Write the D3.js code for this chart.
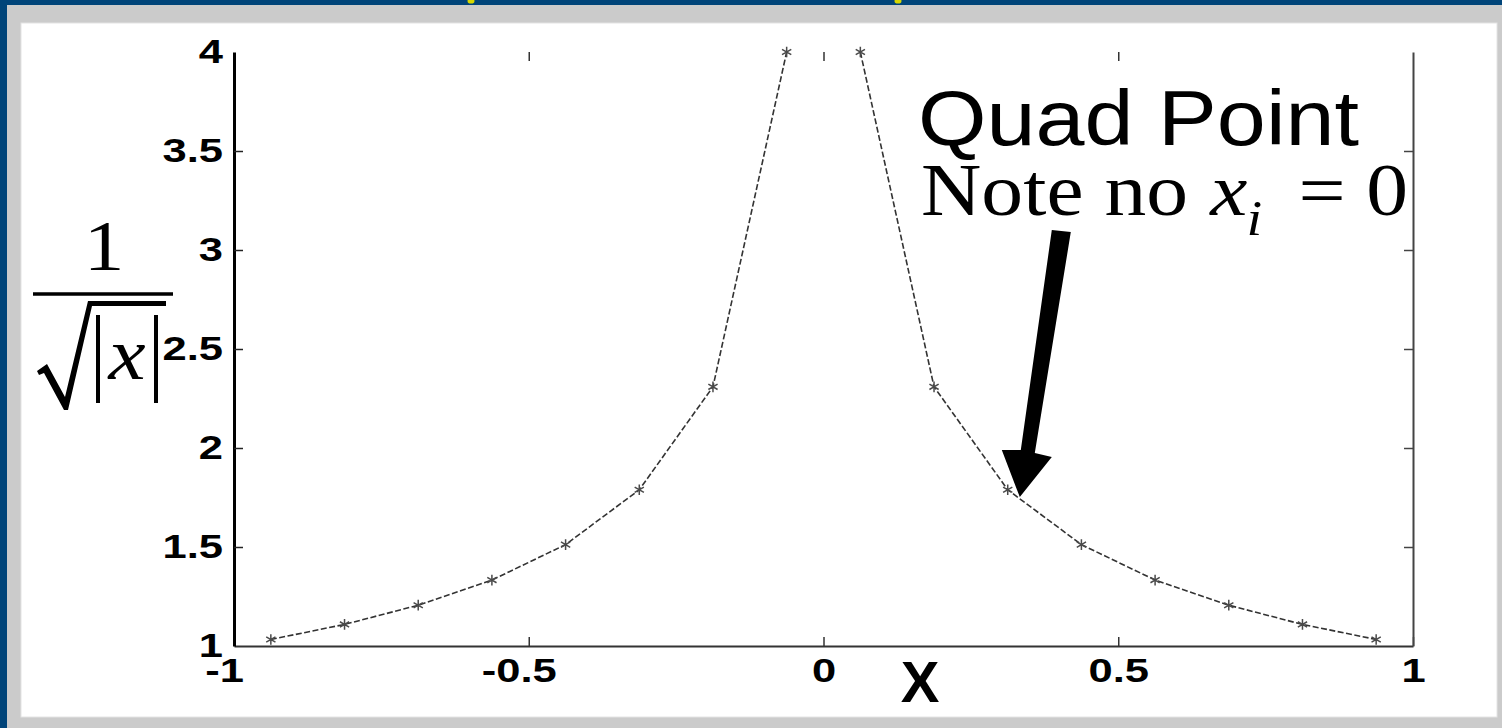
<!DOCTYPE html>
<html>
<head>
<meta charset="utf-8">
<script src="https://cdn.jsdelivr.net/npm/d3@7"></script>
<style>
  html, body { margin: 0; padding: 0; background: #004479; }
  svg { display: block; }
</style>
</head>
<body>
<svg id="chart" width="1502" height="728"></svg>
<script>
// Midpoint quadrature nodes on [-1, 1] (16 panels) and f(x) = 1/sqrt(|x|) at each node
const xNodes = [-0.9375, -0.8125, -0.6875, -0.5625, -0.4375, -0.3125, -0.1875, -0.0625,
                 0.0625,  0.1875,  0.3125,  0.4375,  0.5625,  0.6875,  0.8125,  0.9375];
const fValues = [1.033, 1.109, 1.206, 1.333, 1.512, 1.789, 2.309, 4.000,
                 4.000, 2.309, 1.789, 1.512, 1.333, 1.206, 1.109, 1.033];
const xTicks = [-1, -0.5, 0, 0.5, 1];
const xTickLabels = ["-1", "-0.5", "0", "0.5", "1"];
const yTicks = [1, 1.5, 2, 2.5, 3, 3.5, 4];
const yTickLabels = ["1", "1.5", "2", "2.5", "3", "3.5", "4"];

const svg = d3.select("#chart");
const W = 1502, H = 728;

// slide frame: navy edge, grey mat, white page
svg.append("rect").attr("width", W).attr("height", H).attr("fill", "#004479");
svg.append("rect").attr("x", 7).attr("y", 5).attr("width", W - 7).attr("height", H - 5).attr("fill", "#cbcbcb");
svg.append("rect").attr("x", 21).attr("y", 23).attr("width", 1476).attr("height", 694)
  .attr("fill", "#ffffff").attr("stroke", "#e4e4e4").attr("stroke-width", 1);
// descender tips of the slide title sitting above the frame
[471, 898].forEach(cx => svg.append("ellipse").attr("cx", cx).attr("cy", 1).attr("rx", 3.5).attr("ry", 2.6).attr("fill", "#d8d800"));

const x = d3.scaleLinear().domain([-1, 1]).range([234, 1413]);
const y = d3.scaleLinear().domain([1, 4]).range([646, 52]);

const labelFont = "'Liberation Sans', Arial, Helvetica, sans-serif";
const serif = "'Liberation Serif', 'Times New Roman', serif";
const SX = 1.28;  // wide tick-label glyphs
const TX = 1.13;  // wide annotation glyphs

// ---- axes ----
const tickLen = 9;

// bottom
const gB = svg.append("g").attr("transform", `translate(0,${y(1)})`)
  .call(d3.axisBottom(x).tickValues(xTicks).tickSizeInner(-tickLen).tickSizeOuter(0).tickPadding(12)
    .tickFormat((d, i) => xTickLabels[i]));
gB.select(".domain").attr("stroke", "#333").attr("stroke-width", 2);
gB.selectAll(".tick line").attr("stroke", "#333").attr("stroke-width", 1.5);

// top: ticks only, no spine
const gT = svg.append("g").attr("transform", `translate(0,${y(4)})`)
  .call(d3.axisTop(x).tickValues(xTicks.filter(v => v > -1 && v < 1)).tickSizeInner(-tickLen).tickSizeOuter(0).tickFormat(""));
gT.select(".domain").remove();
gT.selectAll(".tick line").attr("stroke", "#333").attr("stroke-width", 1.5);

// left
const gL = svg.append("g").attr("transform", `translate(${x(-1)},0)`)
  .call(d3.axisLeft(y).tickValues(yTicks).tickSizeInner(-tickLen).tickSizeOuter(0).tickPadding(11)
    .tickFormat((d, i) => yTickLabels[i]));
gL.select(".domain").attr("stroke", "#000").attr("stroke-width", 3);
gL.selectAll(".tick line").attr("stroke", "#222").attr("stroke-width", 1.5)
  .filter(d => d === 1 || d === 4).remove();

// right
const gR = svg.append("g").attr("transform", `translate(${x(1)},0)`)
  .call(d3.axisRight(y).tickValues(yTicks.filter(v => v > 1 && v < 4)).tickSizeInner(-tickLen).tickSizeOuter(0).tickFormat(""));
gR.select(".domain").attr("stroke", "#444").attr("stroke-width", 2);
gR.selectAll(".tick line").attr("stroke", "#444").attr("stroke-width", 1.5);

// tick label styling (wide bold glyphs)
[gB, gL].forEach(g => g.selectAll(".tick text")
  .attr("font-family", labelFont).attr("font-weight", "bold").attr("font-size", 34).attr("fill", "#000"));
gB.selectAll(".tick text")
  .attr("x", d => (d < 0 ? -10 : 0) / SX)
  .attr("transform", `scale(${SX},1)`);
gL.selectAll(".tick text").attr("x", -11 / SX).attr("transform", `scale(${SX},1)`);
[gB, gL, gT, gR].forEach(g => g.attr("font-family", labelFont));

// ---- data: dashed line with asterisk markers (no node at x = 0) ----
const pts = xNodes.map((v, i) => ({ x: v, f: fValues[i] }));
const leftHalf = pts.filter(p => p.x < 0);
const rightHalf = pts.filter(p => p.x > 0);
const line = d3.line().x(d => x(d.x)).y(d => y(d.f));
[leftHalf, rightHalf].forEach(seg => svg.append("path")
  .attr("d", line(seg)).attr("fill", "none").attr("stroke", "#333")
  .attr("stroke-width", 1.6).attr("stroke-dasharray", "6,2.5"));

const asterisk = d3.symbolAsterisk || {
  draw(ctx, size) {
    const r = Math.sqrt(size) * 0.6, d = r * Math.SQRT1_2;
    ctx.moveTo(-r, 0); ctx.lineTo(r, 0); ctx.moveTo(0, -r); ctx.lineTo(0, r);
    ctx.moveTo(-d, -d); ctx.lineTo(d, d); ctx.moveTo(-d, d); ctx.lineTo(d, -d);
  }
};
svg.append("g").selectAll("path").data(pts).join("path")
  .attr("transform", d => `translate(${x(d.x)},${y(d.f)})`)
  .attr("d", d3.symbol(asterisk, 80))
  .attr("fill", "none").attr("stroke", "#4a4a4a").attr("stroke-width", 1.5);

// ---- y label: 1 / sqrt(|x|) ----
const yl = svg.append("g");
yl.append("text").attr("transform", `translate(104,270) scale(${TX},1)`)
  .attr("text-anchor", "middle").attr("font-family", serif).attr("font-size", 72).text("1");
yl.append("line").attr("x1", 33).attr("x2", 173).attr("y1", 294).attr("y2", 294)
  .attr("stroke", "#000").attr("stroke-width", 3.5);
yl.append("path")
  .attr("d", "M37,371 L47,364 L65,397 L88,301 L166,301 L166,306 L92,306 L68,410 L64,410 L44,373 L39,375 Z")
  .attr("fill", "#000");
[98, 156].forEach(bx => yl.append("line").attr("x1", bx).attr("x2", bx).attr("y1", 315).attr("y2", 403)
  .attr("stroke", "#000").attr("stroke-width", 4));
yl.append("text").attr("transform", `translate(127,379) scale(${TX},1)`)
  .attr("text-anchor", "middle").attr("font-family", serif).attr("font-style", "italic")
  .attr("font-size", 74).text("x");

// ---- x label ----
svg.append("text").attr("x", 920).attr("y", 702).attr("text-anchor", "middle")
  .attr("font-family", labelFont).attr("font-weight", "bold").attr("font-size", 58).text("X");

// ---- annotation ----
svg.append("text").attr("transform", `translate(918,145) scale(${TX},1)`)
  .attr("font-family", labelFont).attr("font-size", 78).text("Quad Point");

const note = svg.append("g").attr("transform", `translate(921,215) scale(${TX},1)`)
  .attr("font-family", serif).attr("fill", "#000");
note.append("text").attr("font-size", 74).text("Note no");
note.append("text").attr("x", 256).attr("font-size", 74).attr("font-style", "italic").text("x");
note.append("text").attr("x", 288).attr("y", 20).attr("font-size", 50).attr("font-style", "italic").text("i");
note.append("text").attr("x", 334).attr("font-size", 74).text("=");
note.append("text").attr("x", 394).attr("font-size", 74).text("0");

// arrow pointing at the node next to the singularity
const tip = [x(0.333), y(1.752)];
const arrowShape = [[32, -267], [51, -265], [15, -44], [32, -40], [0, 0], [-18, -47], [1, -47]];
svg.append("path")
  .attr("d", d3.line()(arrowShape.map(([dx, dy]) => [tip[0] + dx, tip[1] + dy])) + "Z")
  .attr("fill", "#000");
</script>
</body>
</html>
